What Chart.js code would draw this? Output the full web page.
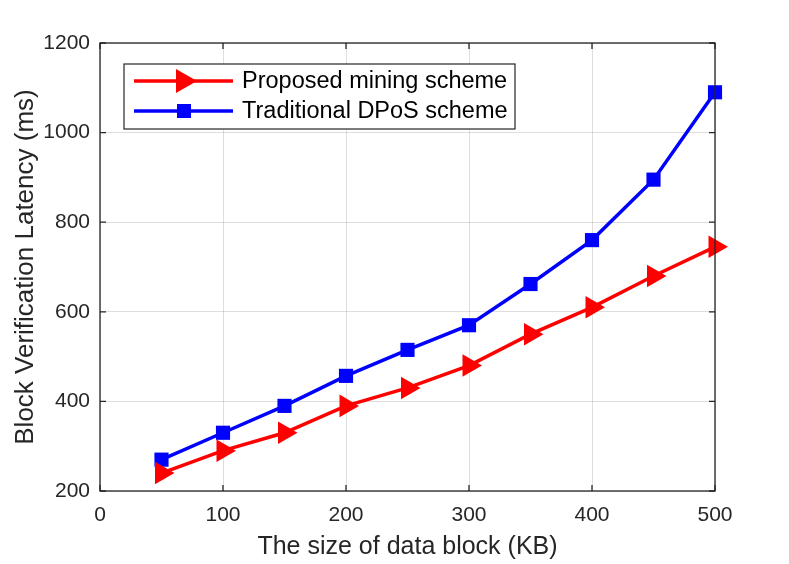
<!DOCTYPE html>
<html>
<head>
<meta charset="utf-8">
<script src="https://cdn.jsdelivr.net/npm/chart.js@4"></script>
<style>
  html, body { margin: 0; padding: 0; background: #fff; }
  #wrap { width: 789px; height: 564px; }
</style>
</head>
<body>
<div id="wrap"><canvas id="c" width="789" height="564"></canvas></div>
<script>
// data
const blockSizes = [50, 100, 150, 200, 250, 300, 350, 400, 450, 500];
const proposed = [240, 290, 330, 390, 430, 480, 550, 610, 680, 745];
const dpos = [270, 330, 390, 457, 515, 570, 662, 760, 895, 1090];
const seriesNames = ['Proposed mining scheme', 'Traditional DPoS scheme'];
const xTicks = [0, 100, 200, 300, 400, 500];
const yTicks = [200, 400, 600, 800, 1000, 1200];

const axisColor = '#262626';
const font = 'Liberation Sans, Arial, Helvetica, sans-serif';

// MATLAB style box with inward ticks
const boxPlugin = {
  id: 'box',
  afterDatasetsDraw(chart) {
    const { ctx, chartArea: a, scales } = chart;
    ctx.save();
    ctx.strokeStyle = axisColor;
    ctx.lineWidth = 1.3;
    ctx.strokeRect(a.left, a.top, a.right - a.left, a.bottom - a.top);
    const len = 6;
    ctx.beginPath();
    xTicks.forEach(v => {
      const x = scales.x.getPixelForValue(v);
      ctx.moveTo(x, a.bottom); ctx.lineTo(x, a.bottom - len);
      ctx.moveTo(x, a.top); ctx.lineTo(x, a.top + len);
    });
    yTicks.forEach(v => {
      const y = scales.y.getPixelForValue(v);
      ctx.moveTo(a.left, y); ctx.lineTo(a.left + len, y);
      ctx.moveTo(a.right, y); ctx.lineTo(a.right - len, y);
    });
    ctx.stroke();
    ctx.restore();
  }
};

// legend box drawn like the MATLAB one
const legendPlugin = {
  id: 'boxLegend',
  afterDraw(chart) {
    const ctx = chart.ctx;
    const x0 = 124, y0 = 64, w = 391, h = 65;
    ctx.save();
    ctx.fillStyle = '#fff';
    ctx.fillRect(x0, y0, w, h);
    ctx.strokeStyle = axisColor;
    ctx.lineWidth = 1.2;
    ctx.strokeRect(x0, y0, w, h);
    chart.data.datasets.forEach((ds, i) => {
      const y = y0 + 17 + i * 30;
      ctx.strokeStyle = ds.borderColor;
      ctx.lineWidth = 3.5;
      ctx.beginPath();
      ctx.moveTo(x0 + 10, y); ctx.lineTo(x0 + 109, y);
      ctx.stroke();
      ctx.fillStyle = ds.borderColor;
      const cx = x0 + 60;
      if (i === 0) {
        ctx.beginPath();
        ctx.moveTo(cx - 8, y - 12);
        ctx.lineTo(cx + 13, y);
        ctx.lineTo(cx - 8, y + 12);
        ctx.closePath();
        ctx.fill();
      } else {
        ctx.fillRect(cx - 7, y - 7, 14, 14);
      }
      ctx.fillStyle = '#000';
      ctx.font = '23.5px ' + font;
      ctx.textBaseline = 'middle';
      ctx.fillText(seriesNames[i], x0 + 118, y + 1);
    });
    ctx.restore();
  }
};

new Chart(document.getElementById('c'), {
  type: 'line',
  data: {
    datasets: [
      {
        label: seriesNames[0],
        data: blockSizes.map((x, i) => ({ x, y: proposed[i] })),
        borderColor: '#ff0000',
        backgroundColor: '#ff0000',
        borderWidth: 3.5,
        pointStyle: 'triangle',
        rotation: 90,
        pointRadius: 13,
        pointHoverRadius: 13,
        pointBorderWidth: 0
      },
      {
        label: seriesNames[1],
        data: blockSizes.map((x, i) => ({ x, y: dpos[i] })),
        borderColor: '#0000ff',
        backgroundColor: '#0000ff',
        borderWidth: 3.5,
        pointStyle: 'rect',
        pointRadius: 10,
        pointHoverRadius: 10,
        pointBorderWidth: 0
      }
    ]
  },
  options: {
    responsive: false,
    animation: false,
    clip: false,
    layout: { padding: { top: 43, right: 74, left: 10, bottom: 2 } },
    plugins: { legend: { display: false }, tooltip: { enabled: false } },
    scales: {
      x: {
        type: 'linear',
        min: 0, max: 500,
        afterBuildTicks(s) { s.ticks = xTicks.map(v => ({ value: v })); },
        afterFit(s) { s.height = 71; },
        grid: { color: 'rgba(0,0,0,0.13)', drawTicks: false },
        border: { display: false },
        ticks: { color: axisColor, font: { size: 21, family: font }, padding: 12, maxRotation: 0,
                 callback: v => String(v) },
        title: { display: true, text: 'The size of data block (KB)', color: axisColor,
                 font: { size: 25, family: font }, padding: 0 }
      },
      y: {
        min: 200, max: 1200,
        afterBuildTicks(s) { s.ticks = yTicks.map(v => ({ value: v })); },
        afterFit(s) { s.width = 90; },
        grid: { color: 'rgba(0,0,0,0.13)', drawTicks: false },
        border: { display: false },
        ticks: { color: axisColor, font: { size: 21, family: font }, padding: 10,
                 callback: v => String(v) },
        title: { display: true, text: 'Block Verification Latency (ms)', color: axisColor,
                 font: { size: 26, family: font }, padding: 0 }
      }
    }
  },
  plugins: [boxPlugin, legendPlugin]
});
</script>
</body>
</html>
